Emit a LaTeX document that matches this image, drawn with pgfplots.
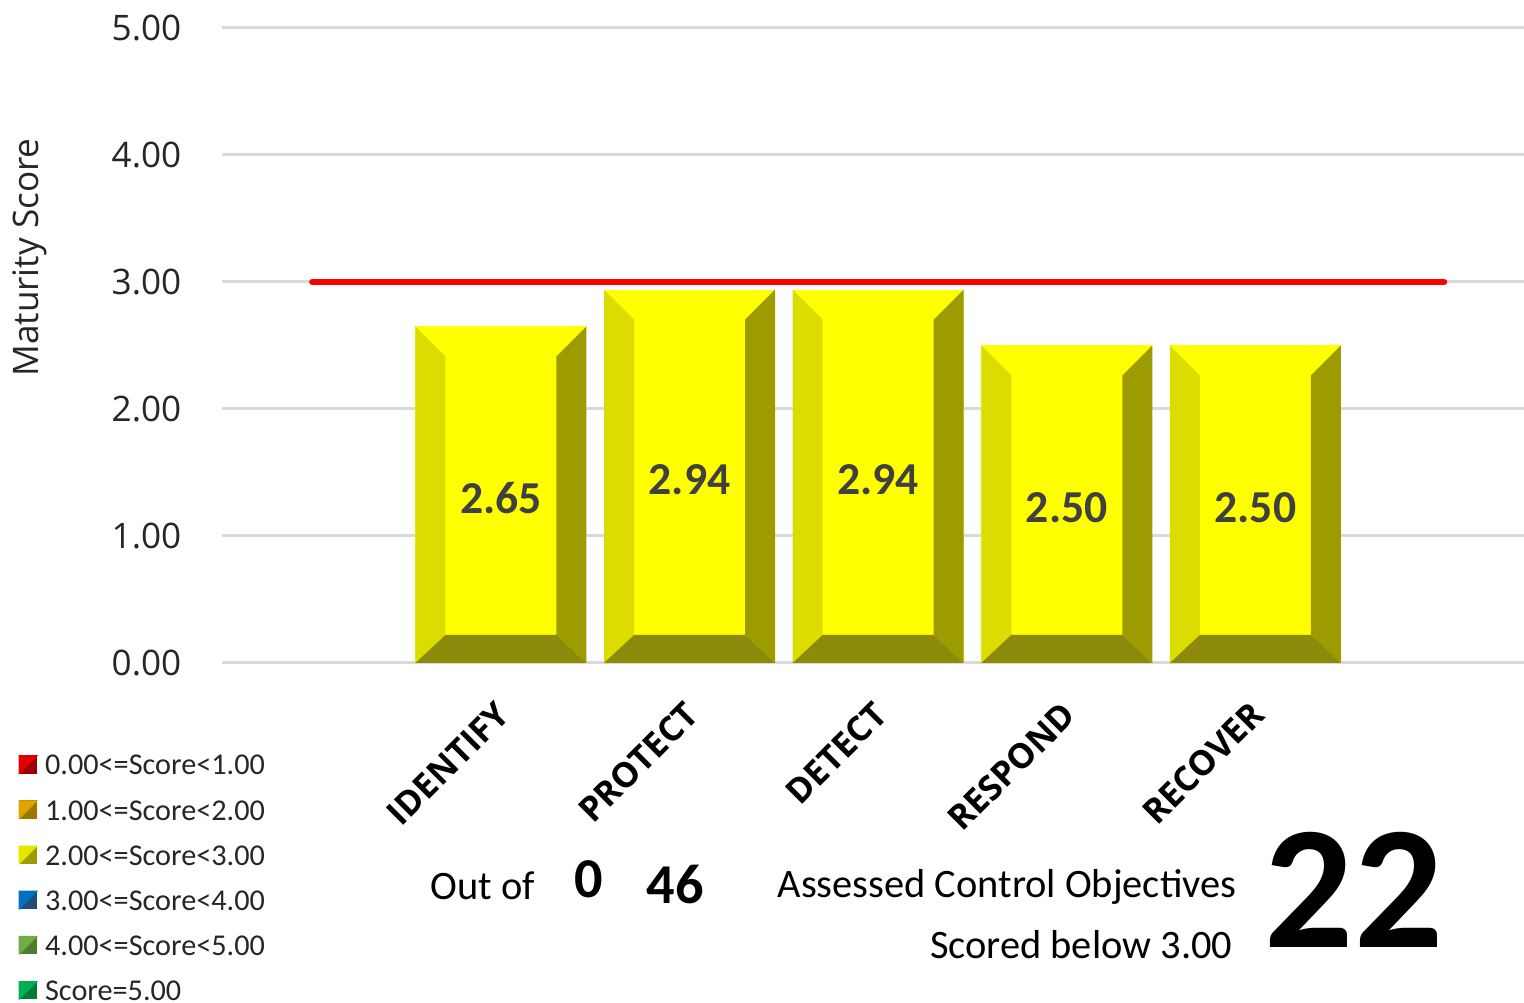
\documentclass[border=0pt]{standalone}
\usepackage{pgfplots}
\pgfplotsset{compat=1.18}
\usepackage{pgfplotstable}
\usepackage{fontspec}
\setmainfont{Carlito}
\newfontfamily\osans{Open Sans}
\definecolor{face}{HTML}{FFFF00}
\definecolor{bevL}{HTML}{DCDC00}
\definecolor{bevR}{HTML}{9C9C00}
\definecolor{bevB}{HTML}{8B8A0B}
\definecolor{gridc}{HTML}{D9D9D9}
\definecolor{lbl}{HTML}{404040}
\definecolor{rL}{HTML}{E00000}\definecolor{rD}{HTML}{9C0000}
\definecolor{oL}{HTML}{E0A400}\definecolor{oD}{HTML}{A07400}
\definecolor{yL}{HTML}{E6E600}\definecolor{yD}{HTML}{9C9C00}
\definecolor{bL}{HTML}{0070C0}\definecolor{bD}{HTML}{1F4E79}
\definecolor{lgL}{HTML}{70AD47}\definecolor{lgD}{HTML}{4E7A32}
\definecolor{gL}{HTML}{00B050}\definecolor{gD}{HTML}{007A37}

\pgfplotstableread{
x v
0 2.65
1 2.94
2 2.94
3 2.50
4 2.50
}\scores

\newcommand\ppa[1]{\pgfpointanchor{path picture bounding box}{#1}}
\newcommand\ppo[3]{\pgfpointadd{\pgfpointanchor{path picture bounding box}{#1}}{\pgfpoint{#2}{#3}}}
\newcommand\bevelcode{%
  \pgfsetfillcolor{bevL}%
  \pgfpathmoveto{\ppa{south west}}\pgfpathlineto{\ppa{north west}}%
  \pgfpathlineto{\ppo{north west}{3mm}{-3mm}}\pgfpathlineto{\ppo{south west}{3mm}{2.8mm}}%
  \pgfpathclose\pgfusepath{fill}%
  \pgfsetfillcolor{bevR}%
  \pgfpathmoveto{\ppa{south east}}\pgfpathlineto{\ppa{north east}}%
  \pgfpathlineto{\ppo{north east}{-3mm}{-3mm}}\pgfpathlineto{\ppo{south east}{-3mm}{2.8mm}}%
  \pgfpathclose\pgfusepath{fill}%
  \pgfsetfillcolor{bevB}%
  \pgfpathmoveto{\ppa{south west}}\pgfpathlineto{\ppa{south east}}%
  \pgfpathlineto{\ppo{south east}{-3mm}{2.8mm}}\pgfpathlineto{\ppo{south west}{3mm}{2.8mm}}%
  \pgfpathclose\pgfusepath{fill}%
}

\pgfplotsset{
  bevelbar/.style={ybar, bar width=0.907, bar shift=0pt, fill=face, draw=none, forget plot,
    path picture={\bevelcode}},
  bevsq/.style 2 args={legend image code/.code={
      \fill[#2] (0mm,-0.85mm) rectangle (1.7mm,0.85mm);
      \fill[#1] (0mm,-0.85mm) -- (0mm,0.85mm) -- (1.7mm,0.85mm) -- cycle;}}
}

\begin{document}
\begin{tikzpicture}
\begin{axis}[
  scale only axis, width=130.2mm, height=63.5mm,
  xmin=-1.479, xmax=5.424, ymin=0, ymax=5,
  clip=false,
  axis line style={draw=none},
  major tick length=0pt,
  ytick={0,1,2,3,4,5},
  ymajorgrids, grid style={gridc, line width=0.3mm},
  xtick={0,1,2,3,4},
  xticklabels={IDENTIFY,PROTECT,DETECT,RESPOND,RECOVER},
  /pgf/number format/assume math mode=true,
  yticklabel style={/pgf/number format/.cd, fixed, fixed zerofill, precision=2, /tikz/.cd,
     font=\osans\fontsize{10}{12}\selectfont, text=black!85, anchor=east, inner sep=0pt, xshift=-4mm},
  xticklabel style={xshift=0.3mm, yshift=-4.5mm, rotate=45, anchor=east, inner sep=0pt,
     font=\osans\bfseries\fontsize{9.8}{12}\selectfont, text=black},
  ylabel={Maturity Score},
  every axis y label/.style={at={(rel axis cs:0,0.6386)}, xshift=-19.2mm, rotate=90, anchor=center,
     font=\osans\fontsize{10}{12}\selectfont, text=black!85},
  legend style={at={(rel axis cs:-0.1567,-0.142)}, anchor=north west, draw=none, fill=none,
     font=\fontsize{8.6}{10}\selectfont, text=black!85, row sep=6.85pt, column sep=0.8mm, inner sep=0pt,
     nodes={inner sep=0pt, text height=6pt, text depth=0pt}},
  legend cell align=left,
]
\pgfplotsinvokeforeach{0,1,2,3,4}{
  \addplot[bevelbar, x filter/.expression={x==#1 ? x : nan}] table[x=x, y=v] {\scores};
}
\addplot[draw=none, mark=none, forget plot, nodes near coords={\pgfmathprintnumber[fixed,fixed zerofill,precision=2]{\pgfplotspointmeta}},
  point meta=\thisrow{v},
  every node near coord/.append style={anchor=center, yshift=-0.3mm, text=lbl, font=\bfseries\fontsize{13}{15}\selectfont}]
  table[x=x, y expr=\thisrow{v}/2] {\scores};
\addplot[color=red, line width=0.65mm, line cap=round, forget plot] coordinates {(-1,3) (5,3)};

\addlegendimage{bevsq={rL}{rD}}\addlegendentry{0.00<=Score<1.00}
\addlegendimage{bevsq={oL}{oD}}\addlegendentry{1.00<=Score<2.00}
\addlegendimage{bevsq={yL}{yD}}\addlegendentry{2.00<=Score<3.00}
\addlegendimage{bevsq={bL}{bD}}\addlegendentry{3.00<=Score<4.00}
\addlegendimage{bevsq={lgL}{lgD}}\addlegendentry{4.00<=Score<5.00}
\addlegendimage{bevsq={gL}{gD}}\addlegendentry{Score=5.00}

\node[inner sep=0pt, anchor=base west, font=\fontsize{11.5}{13}\selectfont] at (axis cs:-0.3765,-1.866) {Out of};
\node[inner sep=0pt, anchor=base, font=\bfseries\fontsize{16}{18}\selectfont] at (axis cs:0.464,-1.850) {0};
\node[inner sep=0pt, anchor=base west, font=\bfseries\fontsize{16}{18}\selectfont] at (axis cs:0.769,-1.890) {46};
\node[inner sep=0pt, anchor=base east, font=\fontsize{11.5}{13}\selectfont] at (axis cs:3.903,-1.850) {Assessed Control Objectives};
\node[inner sep=0pt, anchor=base east, font=\fontsize{11.5}{13}\selectfont] at (axis cs:3.881,-2.323) {Scored below 3.00};
\node[inner sep=0pt, anchor=base, font=\bfseries\fontsize{50}{60}\selectfont] at (axis cs:4.523,-2.244) {22};

\coordinate (aSW) at (rel axis cs:0,0);
\coordinate (aNE) at (rel axis cs:1,1);
\end{axis}
\pgfresetboundingbox
\path ([xshift=-22.2mm,yshift=-34mm]aSW) rectangle ([yshift=2.8mm]aNE);
\end{tikzpicture}
\end{document}
